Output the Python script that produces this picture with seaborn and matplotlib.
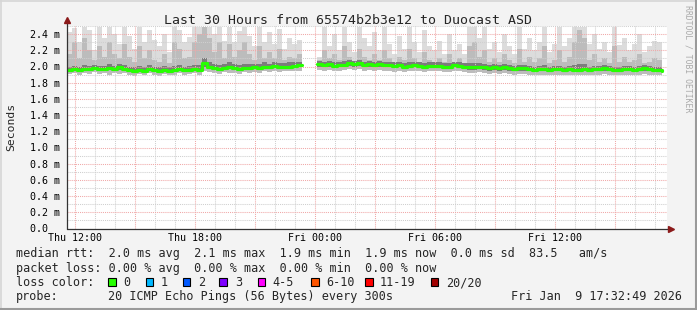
import numpy as np
import pandas as pd
import matplotlib
matplotlib.use("Agg")
import matplotlib.pyplot as plt
import matplotlib.dates as mdates
from matplotlib.ticker import MultipleLocator, FuncFormatter
from matplotlib.patches import Rectangle
from matplotlib.lines import Line2D
import seaborn as sns

NaN = np.nan

# ---------------- data (ms), 15-minute steps from Thu 11:35 ----------------
times = pd.date_range("2026-01-08 11:35", periods=120, freq="15min")

rtt_median = [1.96, 1.97, 1.96, 1.97, 1.97, 1.98, 1.97, 1.97, 1.98, 1.97, 1.99, 1.97,
              1.96, 1.95, 1.96, 1.95, 1.97, 1.96, 1.95, 1.96, 1.95, 1.96, 1.97, 1.96,
              1.96, 1.97, 1.96, 2.04, 2.00, 1.98, 1.97, 1.98, 2.00, 1.98, 1.97, 1.98,
              1.98, 1.99, 1.98, 2.00, 1.99, 2.01, 1.99, 2.00, 2.00, 2.01, 2.02, 2.02,
              NaN, NaN,
              2.03, 2.02, 2.03, 2.01, 2.02, 2.02, 2.04, 2.03, 2.04, 2.02, 2.03, 2.02,
              2.03, 2.02, 2.02, 2.01, 2.02, 2.00, 2.01, 2.02, 2.01, 2.00, 2.01, 2.01,
              2.01, 2.00, 2.00, 2.02, 2.01, 2.00, 1.99, 1.99, 2.00, 1.99, 1.98, 1.99,
              1.98, 1.99, 1.98, 1.97, 1.98, 1.98, 1.97, 1.96, 1.97, 1.97, 1.96, 1.97,
              1.97, 1.96, 1.97, 1.96, 1.96, 1.97, 1.96, 1.97, 1.97, 1.98, 1.97, 1.96,
              1.96, 1.97, 1.97, 1.96, 1.97, 1.98, 1.97, 1.96, 1.96, 1.95]

rtt_q3 = [2.00, 2.01, 2.00, 2.02, 2.01, 2.02, 2.01, 2.01, 2.03, 2.01, 2.03, 2.02,
          2.00, 1.99, 2.01, 1.99, 2.02, 2.00, 1.99, 2.01, 1.99, 2.01, 2.02, 2.00,
          2.01, 2.02, 2.02, 2.10, 2.06, 2.03, 2.02, 2.03, 2.05, 2.03, 2.02, 2.03,
          2.03, 2.03, 2.03, 2.05, 2.03, 2.05, 2.04, 2.04, 2.05, 2.05, 2.06, 2.06,
          NaN, NaN,
          2.07, 2.06, 2.07, 2.05, 2.06, 2.07, 2.08, 2.07, 2.08, 2.06, 2.07, 2.06,
          2.07, 2.06, 2.06, 2.05, 2.06, 2.04, 2.05, 2.06, 2.05, 2.04, 2.05, 2.05,
          2.05, 2.04, 2.04, 2.06, 2.05, 2.04, 2.04, 2.04, 2.04, 2.03, 2.02, 2.03,
          2.02, 2.03, 2.02, 2.01, 2.02, 2.02, 2.01, 2.00, 2.01, 2.02, 2.00, 2.01,
          2.01, 2.00, 2.01, 2.02, 2.03, 2.03, 2.00, 2.01, 2.01, 2.02, 2.01, 2.00,
          2.00, 2.01, 2.01, 2.00, 2.01, 2.02, 2.01, 2.00, 2.00, 2.00]

rtt_q1 = [1.94, 1.95, 1.94, 1.95, 1.95, 1.96, 1.95, 1.95, 1.96, 1.95, 1.96, 1.95,
          1.94, 1.93, 1.94, 1.93, 1.95, 1.94, 1.93, 1.94, 1.93, 1.94, 1.95, 1.94,
          1.94, 1.95, 1.94, 1.99, 1.97, 1.96, 1.95, 1.96, 1.97, 1.96, 1.95, 1.96,
          1.96, 1.97, 1.96, 1.97, 1.97, 1.98, 1.97, 1.98, 1.98, 1.98, 1.99, 1.99,
          NaN, NaN,
          2.00, 1.99, 2.00, 1.98, 1.99, 1.99, 2.01, 2.00, 2.01, 1.99, 2.00, 1.99,
          2.00, 1.99, 1.99, 1.98, 1.99, 1.97, 1.98, 1.99, 1.98, 1.97, 1.98, 1.98,
          1.98, 1.97, 1.97, 1.99, 1.98, 1.97, 1.96, 1.96, 1.97, 1.96, 1.95, 1.96,
          1.95, 1.96, 1.95, 1.94, 1.95, 1.95, 1.94, 1.93, 1.94, 1.94, 1.93, 1.94,
          1.94, 1.93, 1.94, 1.93, 1.93, 1.94, 1.93, 1.94, 1.94, 1.95, 1.94, 1.93,
          1.93, 1.94, 1.94, 1.93, 1.94, 1.95, 1.94, 1.93, 1.93, 1.92]

rtt_min = [1.91, 1.92, 1.90, 1.92, 1.91, 1.93, 1.91, 1.92, 1.90, 1.92, 1.91, 1.92,
           1.90, 1.88, 1.91, 1.89, 1.92, 1.90, 1.88, 1.91, 1.89, 1.90, 1.92, 1.90,
           1.91, 1.92, 1.90, 1.95, 1.93, 1.92, 1.91, 1.93, 1.92, 1.92, 1.91, 1.93,
           1.92, 1.93, 1.92, 1.94, 1.93, 1.94, 1.93, 1.94, 1.94, 1.95, 1.95, 1.96,
           NaN, NaN,
           1.96, 1.95, 1.96, 1.94, 1.95, 1.96, 1.97, 1.96, 1.97, 1.95, 1.96, 1.95,
           1.96, 1.95, 1.95, 1.93, 1.95, 1.93, 1.94, 1.95, 1.94, 1.93, 1.94, 1.94,
           1.94, 1.93, 1.93, 1.95, 1.94, 1.93, 1.92, 1.92, 1.93, 1.92, 1.91, 1.92,
           1.91, 1.92, 1.91, 1.90, 1.91, 1.91, 1.90, 1.89, 1.90, 1.90, 1.89, 1.90,
           1.90, 1.89, 1.90, 1.89, 1.89, 1.90, 1.89, 1.90, 1.90, 1.91, 1.90, 1.89,
           1.89, 1.90, 1.90, 1.89, 1.90, 1.91, 1.90, 1.89, 1.89, 1.88]

rtt_p90 = [2.15, 2.30, 2.10, 2.35, 2.20, 2.08, 2.25, 2.12, 2.30, 2.15, 2.10, 2.28,
           2.12, 2.06, 2.25, 2.10, 2.20, 2.08, 2.05, 2.15, 2.04, 2.30, 2.22, 2.10,
           2.12, 2.30, 2.40, 2.49, 2.35, 2.18, 2.30, 2.10, 2.28, 2.12, 2.20, 2.30,
           2.15, 2.08, 2.25, 2.10, 2.18, 2.10, 2.22, 2.08, 2.12, 2.10, 2.15, 2.12,
           NaN, NaN,
           2.08, 2.20, 2.10, 2.15, 2.08, 2.25, 2.12, 2.07, 2.22, 2.12, 2.08, 2.15,
           2.08, 2.20, 2.10, 2.06, 2.12, 2.08, 2.22, 2.10, 2.06, 2.18, 2.08, 2.06,
           2.10, 2.05, 2.15, 2.06, 2.10, 2.04, 2.25, 2.30, 2.12, 2.20, 2.06, 2.10,
           2.05, 2.15, 2.08, 2.04, 2.22, 2.06, 2.12, 2.05, 2.10, 2.25, 2.04, 2.08,
           2.20, 2.06, 2.12, 2.30, 2.45, 2.35, 2.08, 2.15, 2.05, 2.10, 2.04, 2.25,
           2.06, 2.12, 2.05, 2.08, 2.15, 2.04, 2.06, 2.10, 2.08, 2.20]

rtt_max = [2.42, 2.48, 2.30, 2.49, 2.45, 2.20, 2.49, 2.35, 2.49, 2.40, 2.28, 2.49,
           2.38, 2.22, 2.49, 2.30, 2.45, 2.33, 2.25, 2.40, 2.18, 2.49, 2.45, 2.30,
           2.36, 2.49, 2.49, 2.49, 2.49, 2.40, 2.49, 2.32, 2.49, 2.30, 2.44, 2.49,
           2.38, 2.25, 2.49, 2.30, 2.42, 2.28, 2.46, 2.22, 2.35, 2.28, 2.33, 2.30,
           NaN, NaN,
           2.12, 2.49, 2.25, 2.40, 2.20, 2.49, 2.30, 2.18, 2.49, 2.35, 2.25, 2.42,
           2.20, 2.49, 2.28, 2.15, 2.38, 2.22, 2.49, 2.30, 2.18, 2.45, 2.25, 2.20,
           2.32, 2.16, 2.40, 2.20, 2.28, 2.15, 2.49, 2.49, 2.35, 2.49, 2.22, 2.30,
           2.18, 2.40, 2.25, 2.15, 2.49, 2.22, 2.35, 2.20, 2.30, 2.49, 2.18, 2.28,
           2.49, 2.25, 2.35, 2.49, 2.49, 2.49, 2.28, 2.40, 2.22, 2.30, 2.18, 2.49,
           2.26, 2.35, 2.20, 2.28, 2.40, 2.18, 2.25, 2.32, 2.30, 2.49]

title = "Last 30 Hours from 65574b2b3e12 to Duocast ASD"
y_label = "Seconds"
y_ticks = [0.0, 0.2, 0.4, 0.6, 0.8, 1.0, 1.2, 1.4, 1.6, 1.8, 2.0, 2.2, 2.4]
legend_lines = [
    "median rtt:  2.0 ms avg  2.1 ms max  1.9 ms min  1.9 ms now  0.0 ms sd  83.5   am/s",
    "packet loss: 0.00 % avg  0.00 % max  0.00 % min  0.00 % now",
]
loss_labels = ["0", "1", "2", "3", "4-5", "6-10", "11-19", "20/20"]
loss_colors = ["#26ff00", "#00b8ff", "#0059ff", "#7e00ff", "#ff00fe", "#ff5500", "#ff0000", "#a10000"]
probe_text = "20 ICMP Echo Pings (56 Bytes) every 300s"
stamp_text = "Fri Jan  9 17:32:49 2026"

# ---------------- figure ----------------
sns.set_style("white")
MONO = ["DejaVu Sans Mono", "DejaVu Sans"]
plt.rcParams["font.family"] = MONO

W, H = 697, 310
fig = plt.figure(figsize=(W / 100, H / 100), dpi=100, facecolor="#f3f3f3")


def fx(px):
    return px / W


def fy(py):
    return 1 - py / H


ax = fig.add_axes([fx(67), fy(228.5), 600 / W, 202.5 / H])
ax.set_facecolor("white")

df = pd.DataFrame({"time": times, "median": rtt_median, "q1": rtt_q1, "q3": rtt_q3,
                   "min": rtt_min, "p90": rtt_p90, "max": rtt_max})

# smoke
ax.fill_between(df["time"], df["min"], df["max"], step="post", color="#dcdcdc", lw=0, zorder=1)
ax.fill_between(df["time"], df["min"], df["p90"], step="post", color="#bcbcbc", lw=0, zorder=1.2)
ax.fill_between(df["time"], df["q1"], df["q3"], step="post", color="#7c7c7c", lw=0, zorder=1.4)

# median line, drawn per contiguous segment
valid = df["median"].notna()
seg_id = (valid != valid.shift()).cumsum()
for _, seg in df[valid].groupby(seg_id[valid]):
    sns.lineplot(data=seg, x="time", y="median", ax=ax, color="#26ff00", lw=2.3,
                 drawstyle="steps-post", estimator=None, sort=False, zorder=3)

ax.set_xlim(pd.Timestamp("2026-01-08 11:36"), pd.Timestamp("2026-01-09 17:36"))
ax.set_ylim(0, 2.5)

# grid
ax.yaxis.set_major_locator(MultipleLocator(0.2))
ax.yaxis.set_minor_locator(MultipleLocator(0.1))
ax.xaxis.set_major_locator(mdates.HourLocator(byhour=range(0, 24, 3)))
ax.xaxis.set_minor_locator(mdates.HourLocator())


def xfmt(v, pos):
    d = mdates.num2date(v)
    return d.strftime("%a %H:%M") if d.hour % 6 == 0 else ""


def yfmt(v, pos):
    return "0.0  " if abs(v) < 1e-9 else f"{v:.1f} m"


ax.xaxis.set_major_formatter(FuncFormatter(xfmt))
ax.yaxis.set_major_formatter(FuncFormatter(yfmt))
ax.set_axisbelow(False)
ax.grid(which="major", color="#f0a8a8", lw=0.75, ls=(0, (1, 1)), zorder=2.5)
ax.grid(which="minor", color="#cfcfcf", lw=0.75, ls=(0, (1, 1)), zorder=2.4)
ax.tick_params(axis="both", which="both", length=0)
ax.tick_params(axis="y", pad=5, labelsize=7.2, labelcolor="#000000")
ax.tick_params(axis="x", pad=3, labelsize=7.2, labelcolor="#000000")
for lab in ax.get_yticklabels():
    lab.set_family(MONO)
for s in ax.spines.values():
    s.set_visible(False)
ax.set_xlabel("")
ax.set_ylabel("")

# axes lines with arrows
fig.add_artist(Line2D([fx(67), fx(67)], [fy(228.5), fy(21)], color="#333333", lw=0.9))
fig.add_artist(Line2D([fx(67), fx(669)], [fy(228.5), fy(228.5)], color="#333333", lw=0.9))
fig.add_artist(Line2D([fx(67)], [fy(19.5)], marker="^", ms=4.5, color="#8b1a1a", mec="#8b1a1a"))
fig.add_artist(Line2D([fx(670.5)], [fy(228.5)], marker=">", ms=4.5, color="#8b1a1a", mec="#8b1a1a"))

# texts
fig.text(fx(348.5), fy(24), title, ha="center", va="baseline", fontsize=9.5, family=MONO)
fig.text(fx(11), fy(127), y_label, ha="center", va="center", rotation=90, fontsize=8.2, family=MONO)
fig.text(fx(688), fy(5), "RRDTOOL / TOBI OETIKER", ha="center", va="top", rotation=270,
         fontsize=5.9, color="#aaaaaa", family=MONO)

fs = 8.5
fig.text(fx(16), fy(257.3), legend_lines[0], ha="left", va="baseline", fontsize=fs, family=MONO)
fig.text(fx(16), fy(271.7), legend_lines[1], ha="left", va="baseline", fontsize=fs, family=MONO)
fig.text(fx(16), fy(286), "loss color:", ha="left", va="baseline", fontsize=fs, family=MONO)
sq_x = [108.3, 145.7, 182.7, 219.3, 257.7, 311.0, 365.0, 430.7]
lab_x = [123.3, 161.0, 198.0, 235.0, 272.7, 326.0, 379.3, 446.0]
for sx, lx, lab, col in zip(sq_x, lab_x, loss_labels, loss_colors):
    fig.add_artist(Rectangle((fx(sx), fy(285.5)), 7.5 / W, 8 / H, facecolor=col,
                             edgecolor="black", lw=0.8, transform=fig.transFigure))
    fig.text(fx(lx), fy(286), lab, ha="left", va="baseline", fontsize=fs, family=MONO)
fig.text(fx(16), fy(300.3), "probe:", ha="left", va="baseline", fontsize=fs, family=MONO)
fig.text(fx(108), fy(300.3), probe_text, ha="left", va="baseline", fontsize=fs, family=MONO)
fig.text(fx(682), fy(300.3), stamp_text, ha="right", va="baseline", fontsize=fs, family=MONO)

# image frame
fig.add_artist(Line2D([0, 1], [fy(0.5), fy(0.5)], color="#d6d6d6", lw=1.2))
fig.add_artist(Line2D([fx(0.5), fx(0.5)], [0, 1], color="#d6d6d6", lw=1.2))
fig.add_artist(Line2D([fx(696), fx(696)], [0, 1], color="#9a9a9a", lw=1.5))
fig.add_artist(Line2D([0, 1], [fy(309), fy(309)], color="#9a9a9a", lw=1.5))

fig.savefig("out.png", dpi=100, facecolor=fig.get_facecolor())
